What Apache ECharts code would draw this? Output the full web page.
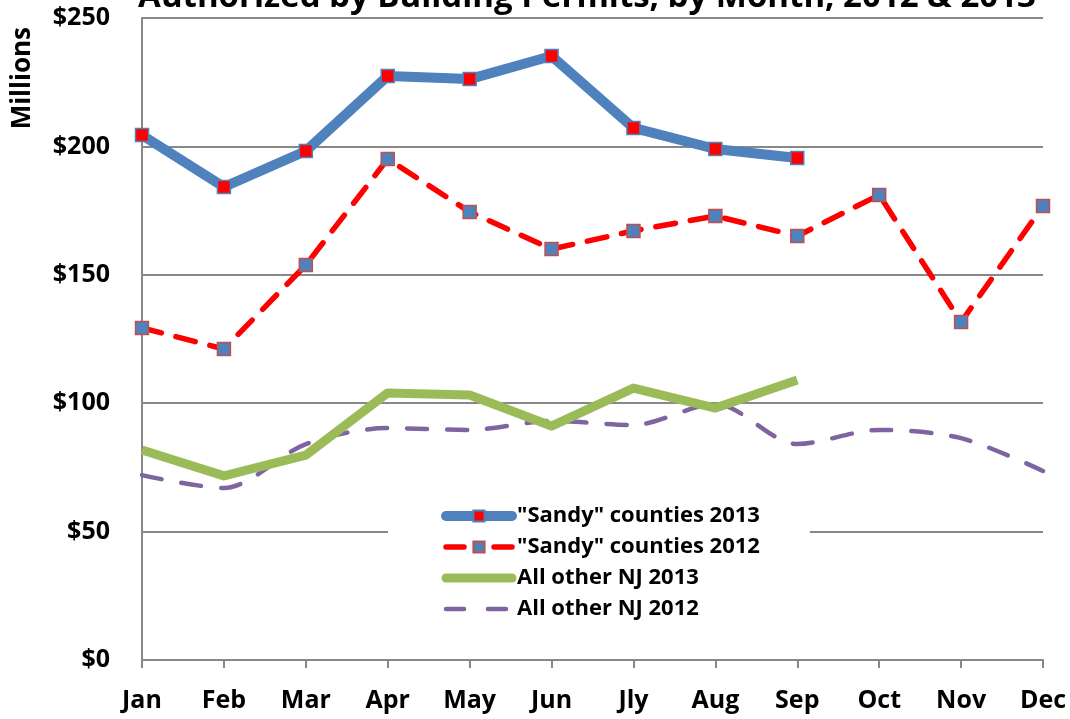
<!DOCTYPE html>
<html>
<head>
<meta charset="utf-8">
<script src="https://cdn.jsdelivr.net/npm/echarts@6/dist/echarts.min.js"></script>
<style>
  html, body { margin: 0; padding: 0; background: #fff; }
  #chart { width: 1070px; height: 719px; }
</style>
</head>
<body>
<div id="chart"></div>
<script>
// Monthly residential construction value ($ millions)
const months = ['Jan', 'Feb', 'Mar', 'Apr', 'May', 'Jun', 'Jly', 'Aug', 'Sep', 'Oct', 'Nov', 'Dec'];
const sandy2013 = [204.4, 184.2, 198.2, 227.4, 226.2, 235.2, 207.2, 199.0, 195.5];
const sandy2012 = [129.3, 121.1, 153.8, 195.1, 174.5, 160.0, 167.1, 172.9, 165.1, 181.1, 131.6, 176.8];
const other2013 = [81.8, 71.7, 79.8, 104.0, 103.2, 91.1, 105.9, 98.1, 109.0];
const other2012 = [72.0, 67.0, 84.1, 90.3, 89.6, 93.1, 91.5, 99.7, 84.1, 89.6, 86.4, 73.6];
const seriesNames = ['"Sandy" counties 2013', '"Sandy" counties 2012', 'All other NJ 2013', 'All other NJ 2012'];

const FONT = '"Open Sans", "DejaVu Sans", sans-serif';
const BLUE = '#4F81BD', RED = '#FF0000', GREEN = '#9BBB59', PURPLE = '#8064A2';
const chart = echarts.init(document.getElementById('chart'));

chart.setOption({
  animation: false,
  backgroundColor: '#fff',
  title: {
    text: 'Authorized by Building Permits, by Month, 2012 & 2013',
    left: 582,
    textAlign: 'center',
    top: -24,
    textStyle: { fontFamily: FONT, fontWeight: 700, fontSize: 33, color: '#000' }
  },
  graphic: [{
    type: 'text',
    left: 10,
    top: 27,
    rotation: Math.PI / 2,
    style: { text: 'Millions', font: '700 26px ' + FONT, fill: '#000' }
  }],
  grid: { left: 142, right: 27, top: 18, bottom: 59 },
  legend: {
    orient: 'vertical',
    left: 388,
    top: 499,
    padding: [6, 50, 8, 53],
    backgroundColor: '#fff',
    itemWidth: 66,
    itemHeight: 14,
    itemGap: 9,
    textStyle: { fontFamily: FONT, fontWeight: 700, fontSize: 22, color: '#000' },
    data: [
      { name: seriesNames[0], lineStyle: { color: BLUE, width: 10, cap: 'round' } },
      { name: seriesNames[1], lineStyle: { color: RED, width: 5.5, type: [18, 30], cap: 'round' } },
      { name: seriesNames[2], lineStyle: { color: GREEN, width: 9, cap: 'round' }, itemStyle: { opacity: 0 } },
      { name: seriesNames[3], lineStyle: { color: PURPLE, width: 4.5, type: [18, 24], cap: 'round' }, itemStyle: { opacity: 0 } }
    ]
  },
  xAxis: {
    type: 'category',
    data: months,
    boundaryGap: false,
    axisLine: { lineStyle: { color: '#888', width: 2 } },
    axisTick: { show: true, length: 8, inside: false, lineStyle: { color: '#888', width: 2 } },
    axisLabel: { fontFamily: FONT, fontWeight: 700, fontSize: 25, color: '#000', margin: 28 },
    splitLine: { show: false }
  },
  yAxis: {
    type: 'value',
    min: 0,
    max: 250,
    interval: 50,
    axisLine: { show: true, lineStyle: { color: '#888', width: 2 } },
    axisTick: { show: false },
    axisLabel: {
      fontFamily: FONT, fontWeight: 700, fontSize: 25, color: '#000', margin: 32,
      formatter: v => '$' + v
    },
    splitLine: { lineStyle: { color: '#888', width: 2 } }
  },
  series: [
    {
      name: seriesNames[0],
      type: 'line',
      data: sandy2013,
      z: 4,
      symbol: 'rect',
      symbolSize: 13,
      itemStyle: { color: RED, borderColor: BLUE, borderWidth: 1.5 },
      lineStyle: { color: BLUE, width: 10, cap: 'round', join: 'round' }
    },
    {
      name: seriesNames[1],
      type: 'line',
      data: sandy2012,
      z: 3,
      symbol: 'rect',
      symbolSize: 13,
      itemStyle: { color: BLUE, borderColor: '#C0504D', borderWidth: 1.5 },
      lineStyle: { color: RED, width: 5.5, type: [20, 15], cap: 'round' }
    },
    {
      name: seriesNames[2],
      type: 'line',
      data: other2013,
      z: 2,
      symbol: 'none',
      itemStyle: { color: GREEN },
      lineStyle: { color: GREEN, width: 9, join: 'round' }
    },
    {
      name: seriesNames[3],
      type: 'line',
      data: other2012,
      z: 1,
      symbol: 'none',
      smooth: 0.3,
      itemStyle: { color: PURPLE },
      lineStyle: { color: PURPLE, width: 4.5, type: [20, 20], cap: 'round' }
    }
  ]
});
</script>
</body>
</html>
